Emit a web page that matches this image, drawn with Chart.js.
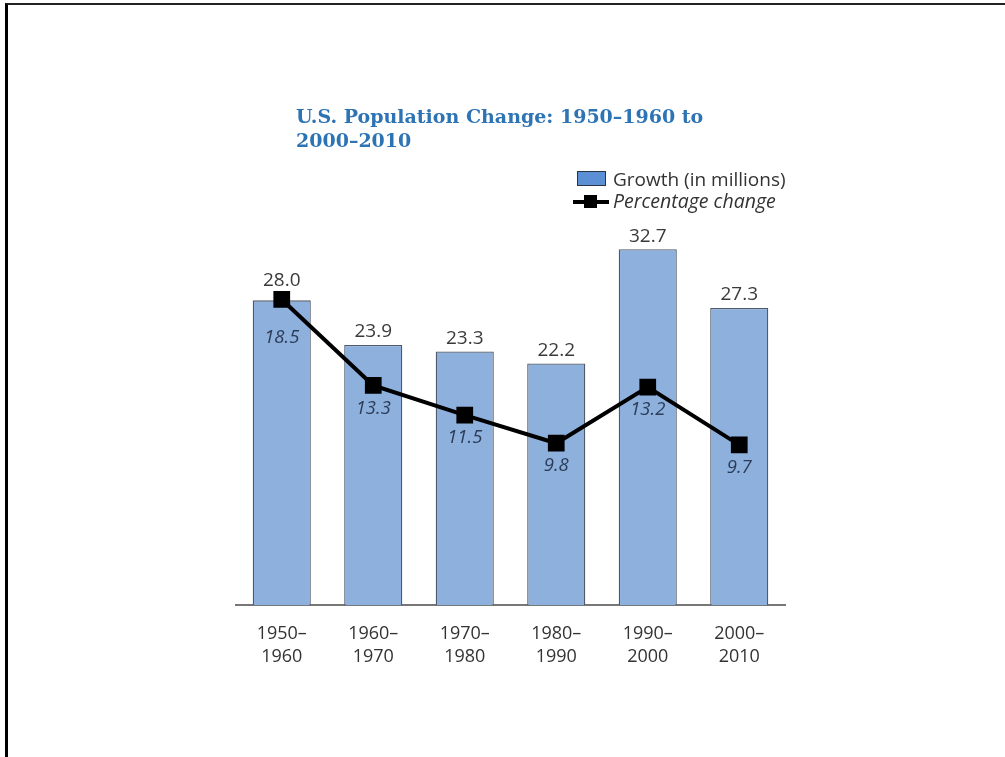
<!DOCTYPE html>
<html>
<head>
<meta charset="utf-8">
<script src="https://cdn.jsdelivr.net/npm/chart.js@4"></script>
<style>
  html, body { margin: 0; padding: 0; background: #fff; }
  body { width: 1005px; height: 757px; position: relative; overflow: hidden; }
  #frame { position: absolute; left: 5px; top: 3px; right: 0; bottom: 0;
           border-top: 2px solid #222; border-left: 3px solid #000; }
  #wrap { position: absolute; left: 0; top: 0; width: 1005px; height: 757px; }
</style>
</head>
<body>
<div id="frame"></div>
<div id="wrap"><canvas id="myChart" width="1005" height="757"></canvas></div>
<script>
// --- data ---
const periods = [['1950–', '1960'], ['1960–', '1970'], ['1970–', '1980'],
                 ['1980–', '1990'], ['1990–', '2000'], ['2000–', '2010']];
const growthMillions = [28.0, 23.9, 23.3, 22.2, 32.7, 27.3];
const percentChange = [18.5, 13.3, 11.5, 9.8, 13.2, 9.7];
const titleLines = ['U.S. Population Change: 1950–1960 to', '2000–2010'];
const legendLabels = ['Growth (in millions)', 'Percentage change'];

const FONT = '"Open Sans", "Noto Sans", sans-serif';

// title, legend and value labels drawn on the canvas
const decorations = {
    id: 'decorations',
    afterDatasetsDraw(chart) {
        const ctx = chart.ctx;
        ctx.save();

        // title
        ctx.fillStyle = '#2e74b5';
        ctx.font = 'bold 19px "DejaVu Serif", serif';
        ctx.textAlign = 'left';
        ctx.textBaseline = 'alphabetic';
        ctx.fillText(titleLines[0], 296, 123);
        ctx.fillText(titleLines[1], 296, 147);

        // legend
        ctx.fillStyle = '#5b8fd6';
        ctx.strokeStyle = '#2b3444';
        ctx.lineWidth = 1;
        ctx.fillRect(577, 171, 29, 15);
        ctx.strokeRect(577.5, 171.5, 28, 14);
        ctx.strokeStyle = '#000';
        ctx.lineWidth = 4;
        ctx.beginPath();
        ctx.moveTo(573, 202);
        ctx.lineTo(609, 202);
        ctx.stroke();
        ctx.fillStyle = '#000';
        ctx.fillRect(584, 195, 13, 13);
        ctx.fillStyle = '#333';
        ctx.font = '19px ' + FONT;
        ctx.fillText(legendLabels[0], 613, 186);
        ctx.font = 'italic 19.5px ' + FONT;
        ctx.fillText(legendLabels[1], 613, 208);

        // value labels
        const bars = chart.getDatasetMeta(0).data;
        const pts = chart.getDatasetMeta(1).data;
        ctx.textAlign = 'center';
        ctx.textBaseline = 'middle';
        bars.forEach((bar, i) => {
            const y = Math.min(bar.y - 13, pts[i].y - 19);
            ctx.fillStyle = '#3a3a3a';
            ctx.font = '19px ' + FONT;
            ctx.fillText(growthMillions[i].toFixed(1), bar.x, y);
        });
        pts.forEach((p, i) => {
            let off = 23;
            const nxt = pts[i + 1];
            if (nxt && (nxt.y - p.y) / (nxt.x - p.x) > 0.8) off = 38;
            ctx.fillStyle = '#2c3b57';
            ctx.font = 'italic 18.5px ' + FONT;
            ctx.fillText(percentChange[i].toFixed(1), p.x, p.y + off);
        });
        ctx.restore();
    }
};

const ctx = document.getElementById('myChart').getContext('2d');
const myChart = new Chart(ctx, {
    data: {
        labels: periods,
        datasets: [{
            type: 'bar',
            label: legendLabels[0],
            data: growthMillions,
            backgroundColor: '#8db0dc',
            borderColor: '#505a6a',
            borderWidth: 1.3,
            categoryPercentage: 0.635,
            barPercentage: 1,
            yAxisID: 'y',
            order: 2
        }, {
            type: 'line',
            label: legendLabels[1],
            data: percentChange,
            borderColor: '#000',
            backgroundColor: '#000',
            borderWidth: 4,
            tension: 0,
            pointStyle: 'rect',
            pointRadius: 9,
            pointHoverRadius: 9,
            yAxisID: 'y2',
            order: 1
        }]
    },
    options: {
        responsive: false,
        animation: false,
        events: [],
        layout: { padding: { left: 236, right: 220, top: 230, bottom: 71 } },
        plugins: {
            legend: { display: false },
            title: { display: false },
            tooltip: { enabled: false }
        },
        scales: {
            x: {
                grid: { display: false, drawTicks: false },
                border: { display: true, color: '#777', width: 2 },
                ticks: {
                    color: '#333',
                    padding: 17,
                    font: { family: FONT, size: 18, lineHeight: 1.3 },
                    maxRotation: 0
                }
            },
            y: { display: false, min: 0, max: 34.46 },
            y2: { display: false, min: 0, max: 22.7 }
        }
    },
    plugins: [decorations]
});
</script>
</body>
</html>
